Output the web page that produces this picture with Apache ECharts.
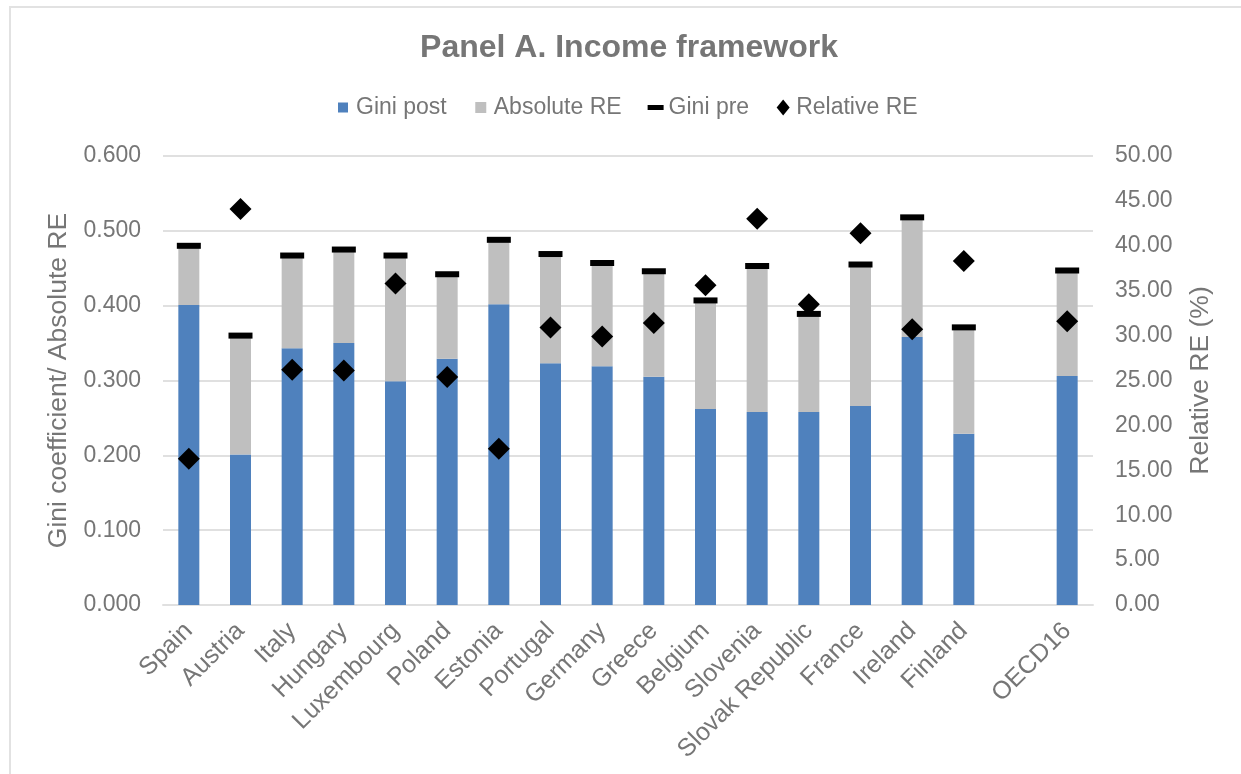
<!DOCTYPE html>
<html>
<head>
<meta charset="utf-8">
<title>Panel A. Income framework</title>
<script src="https://cdn.jsdelivr.net/npm/echarts@6/dist/echarts.min.js"></script>
<style>
  html, body { margin: 0; padding: 0; background: #ffffff; }
  #chart { width: 1241px; height: 774px; }
</style>
</head>
<body>
<div id="chart"></div>
<script>
// Countries in display order; the blank slot separates the OECD16 average.
const countries = ['Spain', 'Austria', 'Italy', 'Hungary', 'Luxembourg', 'Poland', 'Estonia',
  'Portugal', 'Germany', 'Greece', 'Belgium', 'Slovenia', 'Slovak Republic', 'France',
  'Ireland', 'Finland', '', 'OECD16'];

// Gini coefficient after taxes and transfers
const giniPost = [0.401, 0.201, 0.343, 0.350, 0.299, 0.329, 0.402, 0.323, 0.319, 0.305,
  0.262, 0.258, 0.258, 0.266, 0.358, 0.229, null, 0.306];

// Absolute redistributive effect (stacked on top of Gini post)
const absoluteRE = [0.079, 0.159, 0.124, 0.125, 0.168, 0.113, 0.086, 0.146, 0.138, 0.141,
  0.145, 0.195, 0.131, 0.189, 0.160, 0.142, null, 0.141];

// Gini coefficient before taxes and transfers
const giniPre = [0.480, 0.360, 0.467, 0.475, 0.467, 0.442, 0.488, 0.469, 0.457, 0.446,
  0.407, 0.453, 0.389, 0.455, 0.518, 0.371, null, 0.447];

// Relative redistributive effect, % (right axis)
const relativeRE = [16.3, 44.1, 26.2, 26.1, 35.8, 25.4, 17.4, 30.9, 29.9, 31.4,
  35.6, 43.0, 33.5, 41.4, 30.7, 38.3, null, 31.6];

// Axis ranges
const leftAxisRange = { min: 0, max: 0.6, interval: 0.1 };
const rightAxisRange = { min: 0, max: 50, interval: 5 };

const textGrey = '#767676';
const gridGrey = '#e0e0e0';
const font = '"Liberation Sans", Arial, sans-serif';

const chart = echarts.init(document.getElementById('chart'), null, { renderer: 'canvas' });

chart.setOption({
  backgroundColor: '#ffffff',
  animation: false,
  graphic: [{
    type: 'rect',
    shape: { x: 10, y: 7, width: 1300, height: 900 },
    style: { fill: 'none', stroke: '#e2e2e2', lineWidth: 2 },
    silent: true
  }],
  title: {
    text: 'Panel A. Income framework',
    left: 629,
    top: 32,
    textAlign: 'center',
    padding: 0,
    textStyle: { fontFamily: font, fontSize: 32, fontWeight: 'bold', color: textGrey }
  },
  legend: {
    left: 335,
    top: 96,
    padding: 0,
    itemWidth: 16,
    itemHeight: 16,
    itemGap: 26,
    textStyle: { fontFamily: font, fontSize: 23, color: textGrey },
    data: [
      { name: 'Gini post', icon: 'path://M0,0M16,16M3,3h10v10h-10z' },
      { name: 'Absolute RE', icon: 'path://M0,0M16,16M2.5,2.5h11v11h-11z' },
      { name: 'Gini pre', icon: 'path://M0,0M16,16M0,5.5h16v5h-16z' },
      { name: 'Relative RE', icon: 'path://M0,0M16,16M8,0L14.5,8L8,16L1.5,8z' }
    ]
  },
  grid: { left: 163, right: 148, top: 156, bottom: 169, containLabel: false },
  xAxis: {
    type: 'category',
    data: countries,
    axisLine: { lineStyle: { color: gridGrey, width: 2 } },
    axisTick: { show: false },
    axisLabel: {
      interval: 0,
      rotate: 45,
      margin: 22,
      fontFamily: font,
      fontSize: 25,
      color: textGrey
    }
  },
  yAxis: [{
    type: 'value',
    min: leftAxisRange.min,
    max: leftAxisRange.max,
    interval: leftAxisRange.interval,
    name: 'Gini coefficient/ Absolute RE',
    nameLocation: 'middle',
    nameGap: 90,
    nameTextStyle: { fontFamily: font, fontSize: 26.5, color: textGrey },
    axisLine: { show: false },
    axisTick: { show: false },
    splitLine: { lineStyle: { color: gridGrey, width: 2 } },
    axisLabel: {
      margin: 22,
      fontFamily: font,
      fontSize: 23,
      color: textGrey,
      formatter: v => v.toFixed(3)
    }
  }, {
    type: 'value',
    min: rightAxisRange.min,
    max: rightAxisRange.max,
    interval: rightAxisRange.interval,
    name: 'Relative RE (%)',
    nameLocation: 'middle',
    nameGap: 94,
    nameTextStyle: { fontFamily: font, fontSize: 26.5, color: textGrey },
    axisLine: { show: false },
    axisTick: { show: false },
    splitLine: { show: false },
    axisLabel: {
      margin: 22,
      fontFamily: font,
      fontSize: 23,
      color: textGrey,
      formatter: v => v.toFixed(2)
    }
  }],
  series: [{
    name: 'Gini post',
    type: 'bar',
    stack: 'gini',
    barWidth: 21,
    data: giniPost,
    itemStyle: { color: '#4f81bd' },
    z: 2
  }, {
    name: 'Absolute RE',
    type: 'bar',
    stack: 'gini',
    barWidth: 21,
    data: absoluteRE,
    itemStyle: { color: '#bfbfbf' },
    z: 2
  }, {
    name: 'Gini pre',
    type: 'scatter',
    data: giniPre,
    symbol: 'rect',
    symbolSize: [24, 6],
    itemStyle: { color: '#000000', opacity: 1 },
    z: 3
  }, {
    name: 'Relative RE',
    type: 'scatter',
    yAxisIndex: 1,
    data: relativeRE,
    symbol: 'diamond',
    symbolSize: [22, 22],
    itemStyle: { color: '#000000', opacity: 1 },
    z: 4
  }]
});
</script>
</body>
</html>
